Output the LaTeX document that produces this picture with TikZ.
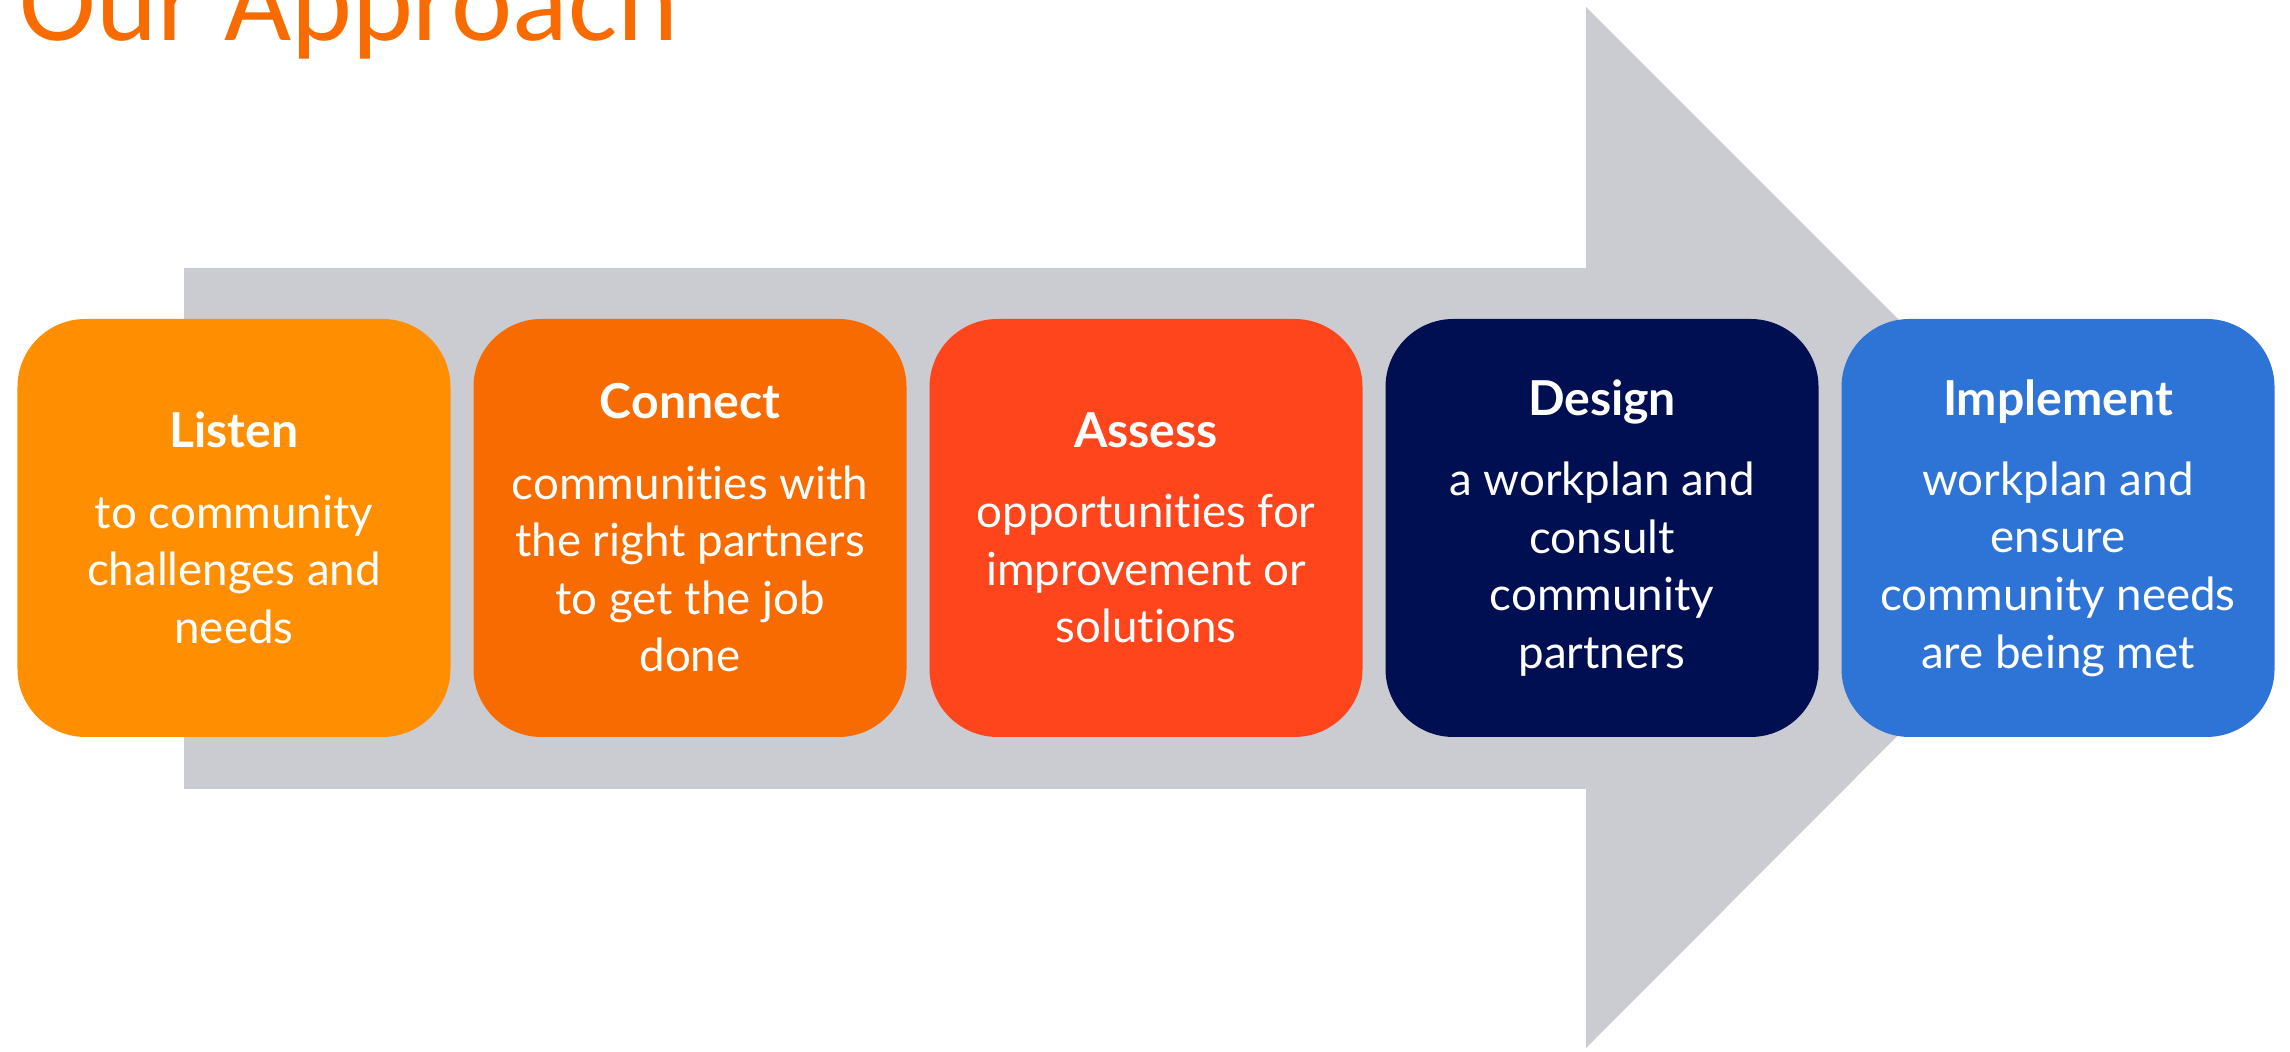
\documentclass[tikz,border=0pt]{standalone}
\usepackage{fontspec}
\setmainfont{Lato}[Ligatures=NoCommon]
\newfontfamily\titlefont{Carlito}
\usepackage{tikz}
\usetikzlibrary{positioning}
\usepackage{xcolor}
\definecolor{arrowgray}{HTML}{CBCCD1}
\definecolor{titleorange}{HTML}{F76B00}
\definecolor{listenorange}{HTML}{FF8F00}
\definecolor{connectorange}{HTML}{F76B00}
\definecolor{assessred}{HTML}{FF451C}
\definecolor{designnavy}{HTML}{000F52}
\definecolor{implementblue}{HTML}{2E74D6}
\tikzset{%
	stage/.style={
		rounded corners=0.68cm,
		minimum width=4.33cm,
		minimum height=4.18cm,
		inner sep=0pt,
		outer sep=0pt,
		align=center,
		text=white,
		font=\fontsize{13}{16.4}\selectfont
	},
}
\newcommand{\stagehead}[1]{{\fontsize{13.7}{16.4}\selectfont\bfseries #1}\\[6.4pt]}

\begin{document}
\begin{tikzpicture}
	\useasboundingbox (0,0) rectangle (22.9,10.52);
	% big arrow behind the steps
	\fill[arrowgray] (1.84,7.84) -- (15.86,7.84) -- (15.86,10.45) -- (21.06,5.25)
		-- (15.86,0.04) -- (15.86,2.63) -- (1.84,2.63) -- cycle;
	
	\node[anchor=base west, inner sep=0pt, text=titleorange,
		font=\titlefont\fontsize{33}{39}\selectfont] (title) at (0.19,10.11) {Our Approach};
	
	\node[stage, fill=listenorange] (listen) at (2.34,5.24)
		{\stagehead{Listen}to community\\challenges and\\needs};
	\node[stage, fill=connectorange, right=0.23cm of listen] (connect)
		{\stagehead{Connect}communities with\\the right partners\\to get the job\\done};
	\node[stage, fill=assessred, right=0.23cm of connect] (assess)
		{\stagehead{Assess}opportunities for\\improvement or\\solutions};
	\node[stage, fill=designnavy, right=0.23cm of assess] (design)
		{\stagehead{Design}a workplan and\\consult\\community\\partners};
	\node[stage, fill=implementblue, right=0.23cm of design] (implement)
		{\stagehead{Implement}workplan and\\ensure\\community needs\\are being met};
	
\end{tikzpicture}
\end{document}
